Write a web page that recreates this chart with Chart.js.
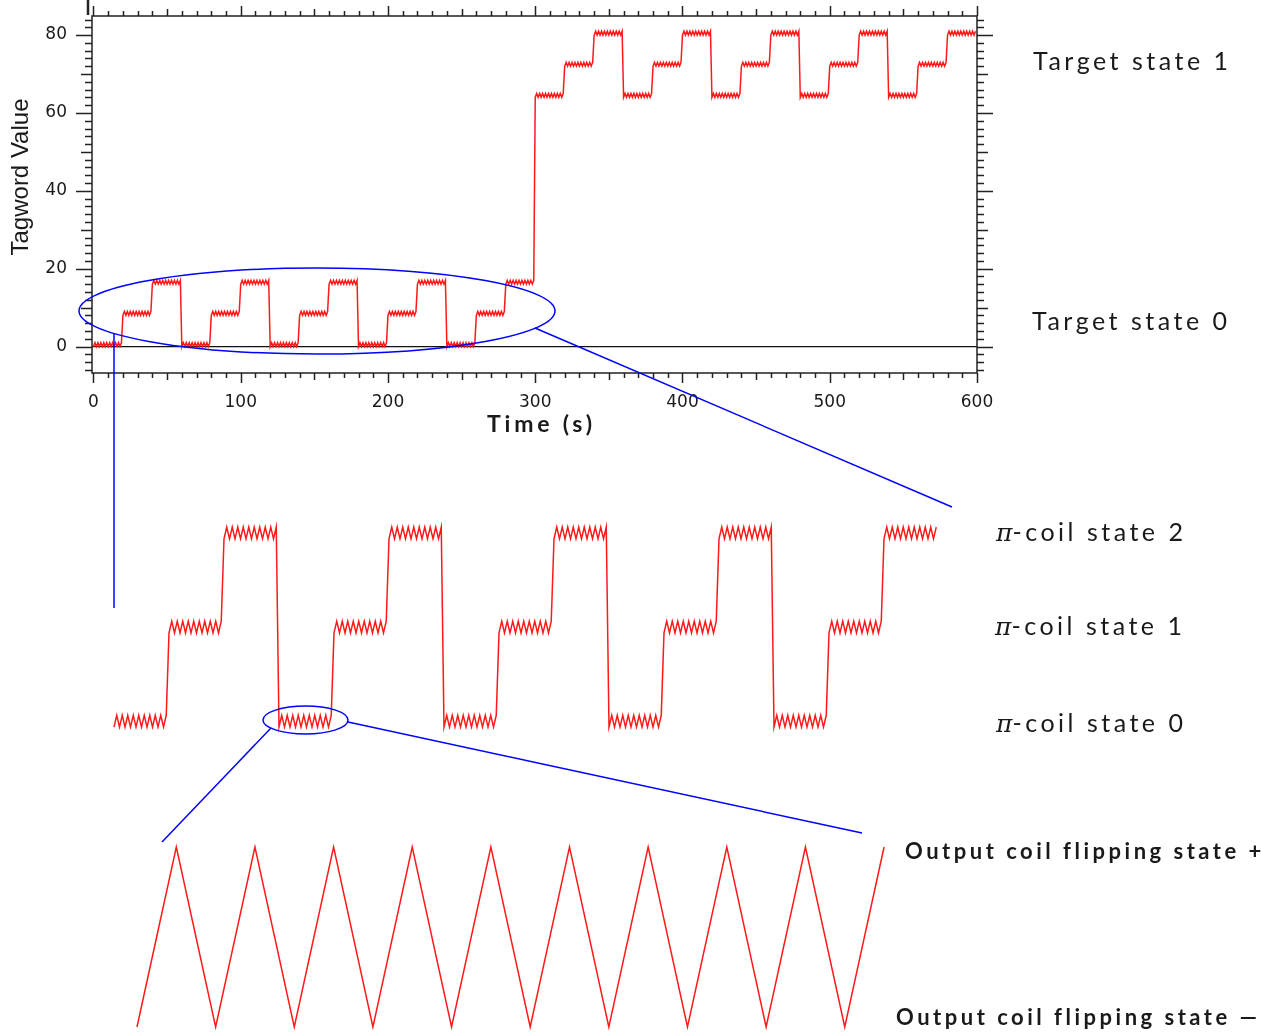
<!DOCTYPE html>
<html>
<head>
<meta charset="utf-8">
<script src="https://cdn.jsdelivr.net/npm/chart.js@4.4.1/dist/chart.umd.min.js"></script>
<style>
body { margin:0; background:#fff; width:1261px; height:1034px; position:relative; overflow:hidden; font-family:Lato, sans-serif; }
.box { position:absolute; }
.lbl { position:absolute; white-space:nowrap; color:#1a1a1a; font-size:25px; line-height:30px; letter-spacing:3.5px; }
.bold { font-weight:bold; font-size:22px; letter-spacing:3.5px; }
.pi { font-family:"DejaVu Serif", serif; font-style:italic; letter-spacing:0; }
#overlay { position:absolute; left:0; top:0; pointer-events:none; }
</style>
</head>
<body>
<div class="box" style="left:0;top:0;width:1000px;height:440px"><canvas id="mainChart"></canvas></div>
<div class="box" style="left:100px;top:500px;width:850px;height:240px"><canvas id="coilChart"></canvas></div>
<div class="box" style="left:120px;top:835px;width:780px;height:199px"><canvas id="flipChart"></canvas></div>

<svg id="overlay" width="1261" height="1034">
  <g fill="none" stroke="#0000ff" stroke-width="1.5">
    <ellipse cx="317" cy="311" rx="238" ry="43"/>
    <line x1="114" y1="333" x2="114" y2="608"/>
    <line x1="535" y1="328" x2="952" y2="507"/>
    <ellipse cx="305.5" cy="720" rx="42.5" ry="14"/>
    <line x1="271" y1="728" x2="162" y2="842"/>
    <line x1="348" y1="722" x2="862" y2="833"/>
  </g>
</svg>

<div class="lbl" style="left:1033px;top:45px">Target state 1</div>
<div class="lbl" style="left:1032px;top:305px">Target state 0</div>
<div class="lbl" style="left:996px;top:516px"><span class="pi">π</span>-coil state 2</div>
<div class="lbl" style="left:995px;top:610px"><span class="pi">π</span>-coil state 1</div>
<div class="lbl" style="left:996px;top:707px"><span class="pi">π</span>-coil state 0</div>
<div class="lbl bold" style="left:905px;top:836px">Output coil flipping state +</div>
<div class="lbl bold" style="left:896px;top:1002px">Output coil flipping state —</div>
<div class="lbl bold" style="left:487px;top:408px;font-size:23px;letter-spacing:3.8px">Time (s)</div>
<div class="lbl" style="left:20px;top:177px;font-family:'Liberation Sans Narrow','Liberation Sans',sans-serif;font-size:24px;letter-spacing:0;transform:translate(-50%,-50%) rotate(-90deg)">Tagword Value</div>

<script>
// tagword base value of each 20 s segment (target state * 64 + pi-coil state * 8)
var segmentLevels = [0, 8, 16, 0, 8, 16, 0, 8, 16, 0, 8, 16, 0, 8, 16,
                     64, 72, 80, 64, 72, 80, 64, 72, 80, 64, 72, 80, 64, 72, 80];
// output coil flipping bit, one sample per second inside a segment
var flipBits = [0, 1, 0, 1, 0, 1, 0, 1, 0, 1, 0, 1, 0, 1, 0, 1, 0, 1, 0, 1];
var segmentSeconds = flipBits.length;

// x axis tick labels (s) and y axis tick labels
var timeTicks = [0, 100, 200, 300, 400, 500, 600];
var tagwordTicks = [0, 20, 40, 60, 80];

// zoomed pieces: first 15 segments (target state 0) and segment 3 (pi-coil state 0)
var coilSegments = 15;
var flipSegment = 3;

function buildPoints(fromSeg, toSeg) {
    var pts = [];
    for (var s = fromSeg; s < toSeg; s++) {
        for (var k = 0; k < segmentSeconds; k++) {
            pts.push({ x: s * segmentSeconds + k, y: segmentLevels[s] + flipBits[k] });
        }
    }
    return pts;
}

var RED = '#ff1a1a';

const frameTicks = {
    id: 'frameTicks',
    beforeDatasetsDraw(chart) {
        const { ctx, chartArea: a, scales: { y } } = chart;
        const y0 = y.getPixelForValue(0);
        ctx.save();
        ctx.strokeStyle = '#111';
        ctx.lineWidth = 1.2;
        ctx.beginPath();
        ctx.moveTo(a.left, y0);
        ctx.lineTo(a.right, y0);
        ctx.stroke();
        ctx.restore();
    },
    afterDraw(chart) {
        const { ctx, chartArea: a, scales: { x, y } } = chart;
        ctx.save();
        ctx.strokeStyle = '#222';
        ctx.lineWidth = 1.5;
        ctx.strokeRect(a.left, a.top, a.right - a.left, a.bottom - a.top);
        ctx.beginPath();
        for (let v = 0; v <= 600; v += 10) {
            const px = Math.round(x.getPixelForValue(v)) + 0.5;
            const len = v % 100 === 0 ? 10 : (v % 50 === 0 ? 7 : 5);
            ctx.moveTo(px, a.bottom); ctx.lineTo(px, a.bottom + len);
            ctx.moveTo(px, a.top); ctx.lineTo(px, a.top - len);
        }
        for (let v = -6; v <= 84; v += 2) {
            const py = Math.round(y.getPixelForValue(v)) + 0.5;
            const len = v % 20 === 0 ? 16 : (v % 10 === 0 ? 11 : 7);
            ctx.moveTo(a.left, py); ctx.lineTo(a.left - len, py);
            ctx.moveTo(a.right, py); ctx.lineTo(a.right + len, py);
        }
        ctx.stroke();
        ctx.lineWidth = 2.5;
        ctx.beginPath();
        ctx.moveTo(a.left - 4, 0); ctx.lineTo(a.left - 4, a.top - 1);
        ctx.stroke();
        ctx.restore();
    }
};

var tickFont = { family: 'DejaVu Sans', size: 17 };

new Chart(document.getElementById('mainChart').getContext('2d'), {
    type: 'line',
    data: {
        datasets: [{
            data: buildPoints(0, segmentLevels.length),
            borderColor: RED,
            borderWidth: 1.5,
            pointRadius: 0,
            tension: 0
        }]
    },
    options: {
        responsive: true,
        maintainAspectRatio: false,
        animation: false,
        layout: { padding: { top: 16, right: 23, left: 0, bottom: 0 } },
        plugins: { legend: { display: false }, tooltip: { enabled: false } },
        scales: {
            x: {
                type: 'linear', min: -1, max: 600,
                grid: { display: false, drawTicks: false },
                border: { display: false },
                afterFit: function(s) { s.height = 67; s.paddingLeft = 0; s.paddingRight = 0; },
                afterBuildTicks: function(s) { s.ticks = timeTicks.map(function(v) { return { value: v }; }); },
                ticks: { padding: 19, color: '#1a1a1a', font: tickFont, maxRotation: 0, autoSkip: false }
            },
            y: {
                type: 'linear', min: -6.8, max: 84.9,
                grid: { display: false, drawTicks: false },
                border: { display: false },
                afterFit: function(s) { s.width = 92; s.paddingTop = 0; s.paddingBottom = 0; },
                afterBuildTicks: function(s) { s.ticks = tagwordTicks.map(function(v) { return { value: v }; }); },
                ticks: { padding: 25, color: '#1a1a1a', font: tickFont }
            }
        }
    },
    plugins: [frameTicks]
});

function zoomChart(id, points, xr, yr) {
    return new Chart(document.getElementById(id).getContext('2d'), {
        type: 'line',
        data: {
            datasets: [{
                data: points,
                borderColor: RED,
                borderWidth: 1.5,
                pointRadius: 0,
                tension: 0,
                clip: false
            }]
        },
        options: {
            responsive: true,
            maintainAspectRatio: false,
            animation: false,
            layout: { padding: 0 },
            plugins: { legend: { display: false }, tooltip: { enabled: false } },
            scales: {
                x: { type: 'linear', display: false, min: xr[0], max: xr[1] },
                y: { type: 'linear', display: false, min: yr[0], max: yr[1] }
            }
        }
    });
}

zoomChart('coilChart', buildPoints(0, coilSegments), [-5.09, 304.0], [-1.1, 19.3]);
zoomChart('flipChart', buildPoints(flipSegment, flipSegment + 1), [59.568, 79.405], [-0.0389, 1.0667]);
</script>
</body>
</html>
